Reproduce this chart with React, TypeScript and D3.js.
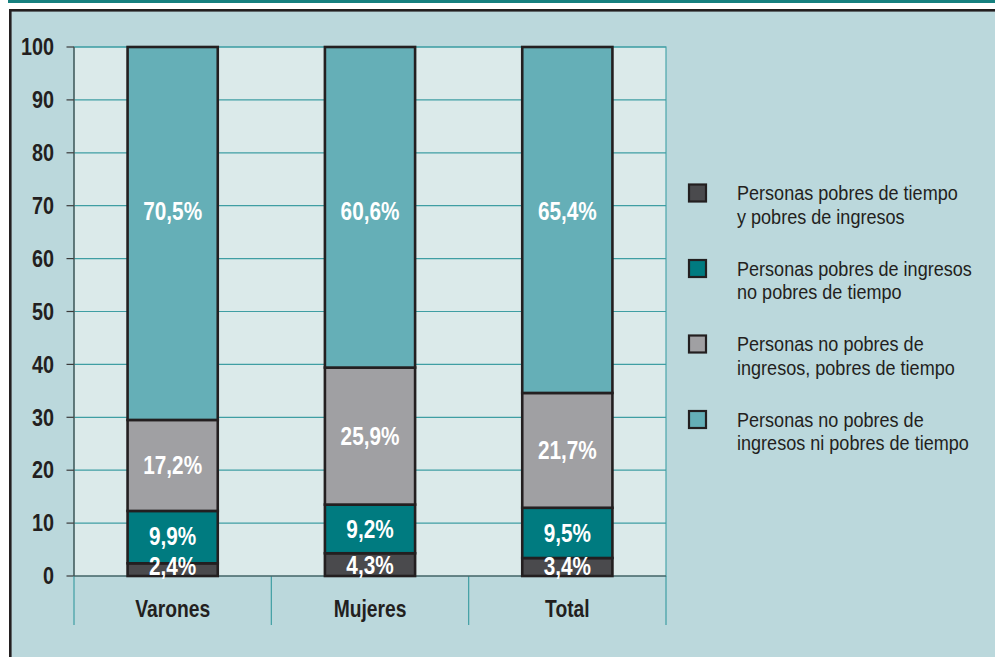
import React from "react";
import * as d3 from "d3";

const categories = ["Varones", "Mujeres", "Total"];
const seriesNames = [
  ["Personas pobres de tiempo", "y pobres de ingresos"],
  ["Personas pobres de ingresos", "no pobres de tiempo"],
  ["Personas no pobres de", "ingresos, pobres de tiempo"],
  ["Personas no pobres de", "ingresos ni pobres de tiempo"],
];
const pobresTiempoEIngresos = [2.4, 4.3, 3.4];
const pobresIngresosNoTiempo = [9.9, 9.2, 9.5];
const noPobresIngresosPobresTiempo = [17.2, 25.9, 21.7];
const noPobres = [70.5, 60.6, 65.4];
const yTicks = [0, 10, 20, 30, 40, 50, 60, 70, 80, 90, 100];
const colors = ["#4a4a4d", "#007b80", "#a0a0a3", "#65afb7"];
const topLabelAnchor = 69;

const series = [pobresTiempoEIngresos, pobresIngresosNoTiempo, noPobresIngresosPobresTiempo, noPobres];

const W = 995;
const H = 657;
const plotL = 74;
const plotR = 666;
const plotT = 47;
const plotB = 576;
const FONT = "'Liberation Sans', Arial, sans-serif";

function T(props: {
  x: number;
  y: number;
  sx: number;
  size: number;
  bold?: boolean;
  anchor?: string;
  fill: string;
  dy?: string;
  children: React.ReactNode;
}) {
  return (
    <text
      transform={`translate(${props.x},${props.y}) scale(${props.sx},1)`}
      dy={props.dy}
      textAnchor={props.anchor || "start"}
      fontFamily={FONT}
      fontWeight={props.bold ? "bold" : "normal"}
      fontSize={props.size}
      fill={props.fill}
    >
      {props.children}
    </text>
  );
}

export default function App() {
  const x = d3.scaleBand<string>().domain(categories).range([plotL, plotR]).paddingInner(0).paddingOuter(0);
  const y = d3.scaleLinear().domain([0, 100]).range([plotB, plotT]);
  const barW = x.bandwidth() * 0.457;

  const rows = categories.map((c, i) => {
    const r: any = { cat: c };
    series.forEach((s, k) => (r["s" + k] = s[i]));
    return r;
  });
  const stack = d3.stack().keys(series.map((_, k) => "s" + k));
  const stacked = stack(rows as any);

  const fmt = (v: number) => v.toFixed(1).replace(".", ",") + "%";

  const labels: { x: number; y: number; text: string }[] = [];
  categories.forEach((c, i) => {
    let prev = y(0) - 10.5 + 30;
    stacked.forEach((layer, k) => {
      const [lo, hi] = layer[i];
      let cy: number;
      if (k === stacked.length - 1) {
        cy = y(topLabelAnchor);
      } else {
        cy = Math.min((y(lo) + y(hi)) / 2, prev - 30);
      }
      prev = cy;
      labels.push({ x: (x(c) as number) + x.bandwidth() / 2, y: cy, text: fmt(series[k][i]) });
    });
  });

  const legendX = 689;
  const legendY0 = 184.5;
  const legendStep = 75.5;

  return (
    <svg width={W} height={H} style={{ position: "absolute", left: 0, top: 0, background: "#fff" }}>
      <rect x={8} y={0} width={W - 8} height={3} fill="#16807f" />
      <rect x={10.3} y={10.3} width={W + 10} height={H + 10} fill="#bbd8dc" stroke="#231f20" strokeWidth={2.6} />
      <rect x={plotL} y={plotT} width={plotR - plotL} height={plotB - plotT} fill="#dbeaea" stroke="#4aa5aa" strokeWidth={1.2} />
      {yTicks.map((t) => (
        <g key={t}>
          {t > 0 && <line x1={plotL} x2={plotR} y1={y(t)} y2={y(t)} stroke="#3f9ea3" strokeWidth={1.2} />}
          <line x1={66.5} x2={plotL} y1={y(t)} y2={y(t)} stroke="#3a3a3a" strokeWidth={1.2} />
          <T x={54} y={y(t)} dy="0.36em" anchor="end" bold size={23} sx={0.86} fill="#231f20">
            {t}
          </T>
        </g>
      ))}
      {[...categories.map((c) => x(c) as number), plotR].map((xx, i) => (
        <line key={i} x1={xx} x2={xx} y1={plotB} y2={625} stroke="#3f9ea3" strokeWidth={1.2} />
      ))}
      <line x1={plotL} x2={plotL} y1={plotT} y2={plotB} stroke="#4a4a4a" strokeWidth={1.2} />
      <line x1={plotL} x2={plotR} y1={plotB} y2={plotB} stroke="#4a4a4a" strokeWidth={1.2} />
      {stacked.map((layer, k) =>
        layer.map((d, i) => {
          const cx = (x(categories[i]) as number) + x.bandwidth() / 2;
          return (
            <rect
              key={k + "-" + i}
              x={cx - barW / 2}
              y={y(d[1])}
              width={barW}
              height={y(d[0]) - y(d[1])}
              fill={colors[k]}
              stroke="#231f20"
              strokeWidth={2.6}
            />
          );
        })
      )}
      {labels.map((l, i) => (
        <T key={i} x={l.x} y={l.y} dy="0.36em" anchor="middle" bold size={25} sx={0.83} fill="#ffffff">
          {l.text}
        </T>
      ))}
      {categories.map((c) => (
        <T key={c} x={(x(c) as number) + x.bandwidth() / 2} y={617} anchor="middle" bold size={23.5} sx={0.82} fill="#231f20">
          {c}
        </T>
      ))}
      {seriesNames.map((lines, k) => {
        const ty = legendY0 + k * legendStep;
        return (
          <g key={k}>
            <rect x={legendX} y={ty} width={17} height={17} fill={colors[k]} stroke="#231f20" strokeWidth={2.2} />
            {lines.map((ln, j) => (
              <T key={j} x={737} y={ty + 15.5 + j * 23.5} size={21} sx={0.86} fill="#231f20">
                {ln}
              </T>
            ))}
          </g>
        );
      })}
    </svg>
  );
}
